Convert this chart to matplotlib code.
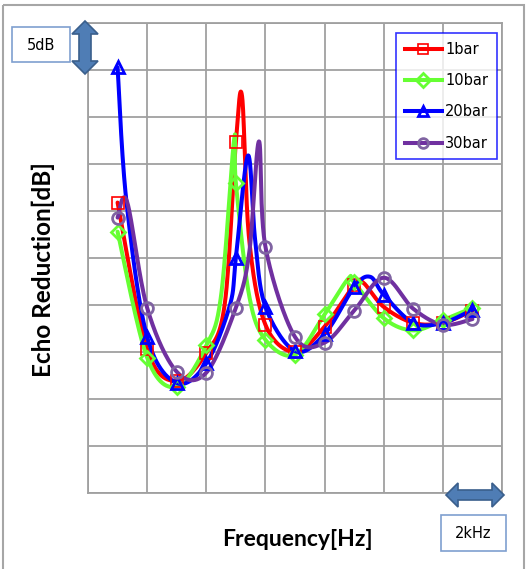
import numpy as np
import matplotlib.pyplot as plt
from matplotlib.patches import Polygon, Rectangle
from matplotlib.lines import Line2D

# frequency of the marked points (kHz), one grid cell = 2 kHz, one row = 5 dB
freq = [1, 2, 3, 4, 5, 6, 7, 8, 9, 10, 11, 12, 13]

bar1 = [30.9, 15.3, 11.9, 14.9, 37.3, 17.9, 15.0, 17.7, 22.1, 19.8, 18.1, 18.1, 19.4]
bar10 = [27.8, 14.4, 11.3, 15.7, 33.0, 16.3, 14.7, 19.0, 22.4, 18.6, 17.3, 18.4, 19.7]
bar20 = [45.3, 16.6, 11.7, 13.8, 25.0, 19.8, 15.1, 16.9, 21.9, 21.1, 18.1, 18.1, 19.5]
bar30 = [29.3, 19.7, 12.9, 12.8, 19.7, 26.2, 16.6, 16.0, 19.4, 22.9, 19.6, 17.9, 18.5]

# unmarked points of the measured curves (resonance flanks and peaks)
bar1_pk_f = [4.62, 5.21, 5.45, 9.3]
bar1_pk = [20.0, 42.2, 27.0, 22.4]
bar10_pk_f = [4.50, 4.94, 5.45, 8.8]
bar10_pk = [21.0, 37.6, 21.0, 22.8]
bar20_pk_f = [1.3, 4.80, 5.41, 5.65, 9.54]
bar20_pk = [31.0, 20.0, 35.9, 27.0, 23.0]
bar30_pk_f = [1.32, 5.45, 5.78]
bar30_pk = [31.0, 25.5, 37.4]

labels = ['1bar', '10bar', '20bar', '30bar']
colors = ['#ff0000', '#66ff33', '#0000ff', '#7030a0']
edge_colors = ['#ff0000', '#66ff33', '#0000ff', '#8064a2']
markers = ['s', 'D', '^', 'o']

SX, SY = 414 / 14, 470 / 50   # pixels per kHz and per dB


def smooth(x, y, n=30):
    # spreadsheet-style smoothed line: Bezier segments, control points at 1/6 of neighbours
    P = np.column_stack([np.asarray(x, float) * SX, np.asarray(y, float) * SY])
    E = np.vstack([P[0], P, P[-1]])
    t = np.linspace(0, 1, n)[:, None]
    segs = []
    for i in range(len(P) - 1):
        p0, p1, p2, p3 = E[i], E[i + 1], E[i + 2], E[i + 3]
        b1 = p1 + (p2 - p0) / 6
        b2 = p2 - (p3 - p1) / 6
        segs.append((1 - t)**3 * p1 + 3 * (1 - t)**2 * t * b1 + 3 * (1 - t) * t**2 * b2 + t**3 * p2)
    S = np.vstack(segs)
    return S[:, 0] / SX, S[:, 1] / SY


fig = plt.figure(figsize=(5.27, 5.69), dpi=100)
ax = fig.add_axes([88 / 527, 1 - 493 / 569, 414 / 527, 470 / 569])

series = [(bar1, bar1_pk_f, bar1_pk), (bar10, bar10_pk_f, bar10_pk),
          (bar20, bar20_pk_f, bar20_pk), (bar30, bar30_pk_f, bar30_pk)]
handles = []
for (vals, pf, pv), lab, c, ec, m in zip(series, labels, colors, edge_colors, markers):
    pts = sorted(zip(list(freq) + pf, list(vals) + pv))
    cx, cy = smooth([p[0] for p in pts], [p[1] for p in pts])
    ax.plot(cx, cy, color=c, lw=2.9, solid_capstyle='round', solid_joinstyle='round', zorder=3)
    mew = 1.2 if m == 's' else 2.0
    ms = 8.5 if m != 'D' else 7.5
    ax.plot(freq, vals, ls='none', marker=m, ms=ms, mfc='none', mec=ec, mew=mew, zorder=4)
    handles.append(Line2D([], [], color=c, lw=2.9, marker=m, ms=7, mfc='none', mec=ec, mew=mew))

ax.set_xlim(0, 14)
ax.set_ylim(0, 50)
ax.set_xticks(np.arange(0, 15, 2))
ax.set_yticks(np.arange(0, 51, 5))
ax.tick_params(length=0, labelbottom=False, labelleft=False)
ax.grid(True, color='#a0a0a0', lw=1.3)
for sp in ax.spines.values():
    sp.set_color('#a0a0a0')
    sp.set_linewidth(1.3)

leg = ax.legend(handles, labels, loc='upper right', bbox_to_anchor=(0.988, 0.979),
                borderaxespad=0, fancybox=False, fontsize=10.5, handlelength=2.5,
                labelspacing=1.12, handletextpad=0.25, borderpad=0.6)
leg.get_frame().set_edgecolor('#0000ff')
leg.get_frame().set_linewidth(1.2)
leg.set_zorder(10)

# overlay in pixel coordinates for axis titles, scale boxes and arrows
ov = fig.add_axes([0, 0, 1, 1], zorder=5)
ov.set_xlim(0, 527)
ov.set_ylim(569, 0)
ov.axis('off')
ov.patch.set_alpha(0)

ov.text(43, 270, 'Echo Reduction[dB]', rotation=90, ha='center', va='center',
        fontsize=17.5, fontweight='bold', family='Lato')
ov.text(297, 539, 'Frequency[Hz]', ha='center', va='center',
        fontsize=16.5, fontweight='bold', family='Lato')

ov.add_patch(Rectangle((3, 5), 521, 570, fill=False, ec='#a6a6a6', lw=1.5))

ov.add_patch(Rectangle((12, 27), 58, 35, fc='white', ec='#7f9fcf', lw=1.2))
ov.text(41, 45, '5dB', ha='center', va='center', fontsize=10.5)
ov.add_patch(Rectangle((441, 515), 65, 36, fc='white', ec='#7f9fcf', lw=1.2))
ov.text(473.5, 533, '2kHz', ha='center', va='center', fontsize=10.5)

cx0, y0, y1 = 85, 21, 74
ov.add_patch(Polygon([(cx0, y0), (cx0 + 13, y0 + 13), (cx0 + 6, y0 + 13), (cx0 + 6, y1 - 13),
                      (cx0 + 13, y1 - 13), (cx0, y1), (cx0 - 13, y1 - 13), (cx0 - 6, y1 - 13),
                      (cx0 - 6, y0 + 13), (cx0 - 13, y0 + 13)],
                     fc='#4f7db5', ec='#3a5f8c', lw=1.2))
cy0, x0, x1 = 495, 446, 504
ov.add_patch(Polygon([(x0, cy0), (x0 + 12, cy0 - 12), (x0 + 12, cy0 - 5), (x1 - 12, cy0 - 5),
                      (x1 - 12, cy0 - 12), (x1, cy0), (x1 - 12, cy0 + 12), (x1 - 12, cy0 + 5),
                      (x0 + 12, cy0 + 5), (x0 + 12, cy0 + 12)],
                     fc='#4f7db5', ec='#3a5f8c', lw=1.2))

fig.savefig('out.png', dpi=100)
